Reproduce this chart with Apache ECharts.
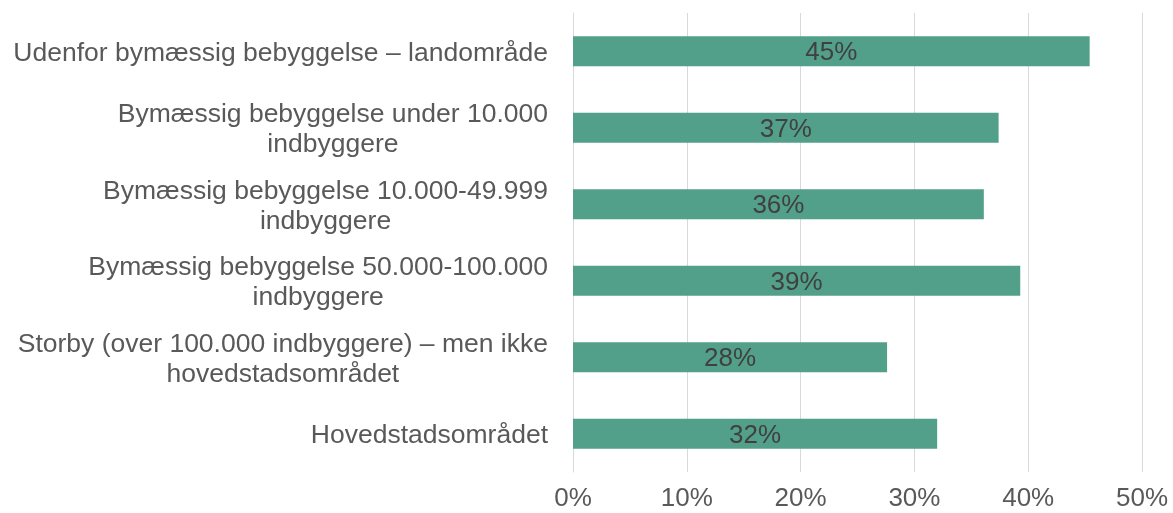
<!DOCTYPE html>
<html>
<head>
<meta charset="utf-8">
<script src="https://cdn.jsdelivr.net/npm/echarts@6/dist/echarts.min.js"></script>
<style>
html, body { margin: 0; padding: 0; background: #ffffff; }
#chart { width: 1173px; height: 513px; }
</style>
</head>
<body>
<div id="chart"></div>
<script>
const categories = [
  'Udenfor bymæssig bebyggelse – landområde',
  'Bymæssig bebyggelse under 10.000\nindbyggere',
  'Bymæssig bebyggelse 10.000-49.999\nindbyggere',
  'Bymæssig bebyggelse 50.000-100.000\nindbyggere',
  'Storby (over 100.000 indbyggere) – men ikke\nhovedstadsområdet',
  'Hovedstadsområdet'
];
const values = [45.4, 37.4, 36.1, 39.3, 27.6, 32.0];
const xTicks = [0, 10, 20, 30, 40, 50];

const FONT = '"Liberation Sans", Arial, sans-serif';
const chart = echarts.init(document.getElementById('chart'), null, { renderer: 'canvas' });
chart.setOption({
  backgroundColor: '#ffffff',
  animation: false,
  grid: { left: 573, right: 31, top: 13, bottom: 41, containLabel: false },
  xAxis: {
    type: 'value',
    min: xTicks[0],
    max: xTicks[xTicks.length - 1],
    interval: 10,
    axisLine: { show: false },
    axisTick: { show: false },
    splitLine: { show: true, lineStyle: { color: '#d9d9d9', width: 1 } },
    axisLabel: {
      formatter: v => v + '%',
      color: '#595959',
      fontFamily: FONT,
      fontSize: 26,
      margin: 14
    }
  },
  yAxis: {
    type: 'category',
    data: categories,
    inverse: true,
    axisLine: { show: true, lineStyle: { color: '#d9d9d9', width: 1 } },
    axisTick: { show: false },
    axisLabel: {
      align: 'right',
      margin: 25,
      padding: [4, 0, 0, 0],
      color: '#595959',
      fontFamily: FONT,
      fontSize: 26.5,
      lineHeight: 30,
      formatter: v => v.split('\n').map(l => '{c|' + l + '}').join('\n'),
      rich: {
        c: { align: 'center', color: '#595959', fontFamily: FONT, fontSize: 26.5, lineHeight: 30 }
      }
    }
  },
  series: [{
    type: 'bar',
    data: values,
    barWidth: 30,
    itemStyle: { color: '#52a08a' },
    label: {
      show: true,
      position: 'inside',
      offset: [0, 2],
      formatter: p => Math.round(p.value) + '%',
      color: '#404040',
      fontFamily: FONT,
      fontSize: 26
    }
  }]
});
</script>
</body>
</html>
